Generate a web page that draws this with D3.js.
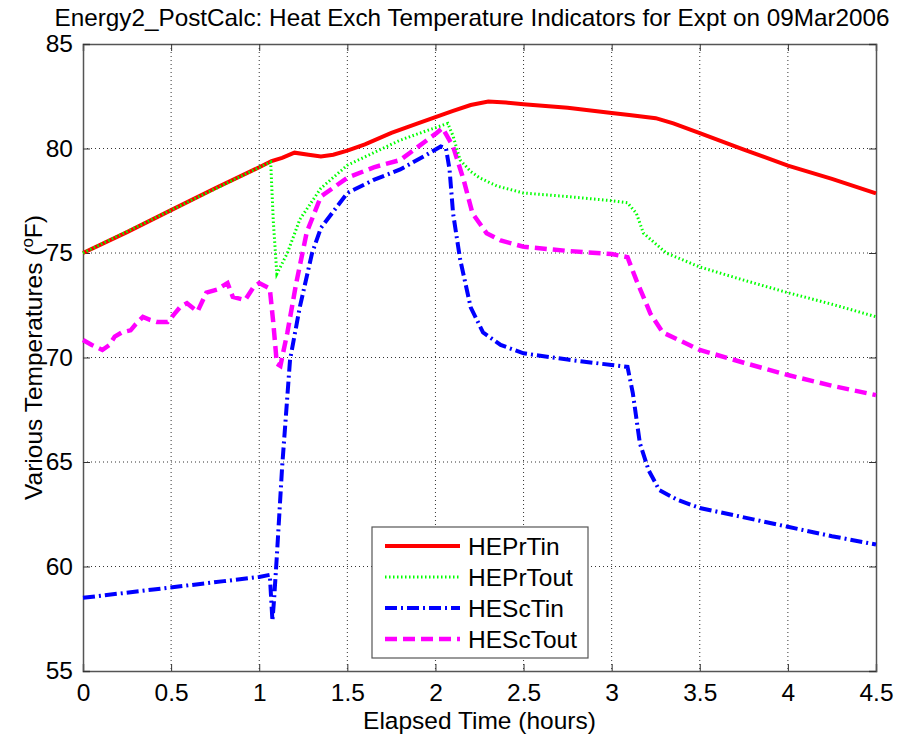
<!DOCTYPE html>
<html><head><meta charset="utf-8">
<script src="https://cdn.jsdelivr.net/npm/d3@7"></script>
<style>body{margin:0;background:#fff}svg{display:block}text{font-family:Arial,"Liberation Sans",sans-serif;}</style>
</head><body>
<svg id="c" width="904" height="740"></svg>
<script>
const xTicks = [0,0.5,1,1.5,2,2.5,3,3.5,4,4.5];
const xTickLabels = ["0","0.5","1","1.5","2","2.5","3","3.5","4","4.5"];
const yTicks = [55,60,65,70,75,80,85];
const yTickLabels = ["55","60","65","70","75","80","85"];
const seriesNames = ["HEPrTin","HEPrTout","HEScTin","HEScTout"];

const heprtinT = [0,0.25,0.5,0.75,1.0,1.07,1.13,1.2,1.28,1.35,1.42,1.5,1.6,1.75,1.9,2.0,2.1,2.2,2.3,2.4,2.5,2.75,3.0,3.1,3.25,3.35,3.5,3.75,4.0,4.25,4.5];
const heprtinV = [75,76.0,77.05,78.1,79.1,79.4,79.55,79.8,79.7,79.62,79.7,79.9,80.2,80.75,81.2,81.5,81.8,82.08,82.25,82.2,82.12,81.95,81.7,81.6,81.45,81.2,80.74,79.95,79.18,78.55,77.85];

const heprtoutT = [0,0.5,1.0,1.065,1.08,1.1,1.16,1.23,1.35,1.5,1.65,1.8,1.95,2.07,2.1,2.14,2.2,2.25,2.35,2.5,2.75,3.0,3.09,3.14,3.18,3.31,3.5,3.75,4.0,4.25,4.5];
const heprtoutV = [75,77.05,79.1,79.35,76.5,74.0,75.0,76.6,78.1,79.2,79.8,80.4,80.85,81.2,80.6,79.45,78.9,78.6,78.2,77.87,77.7,77.5,77.4,76.9,75.95,75.0,74.33,73.7,73.1,72.55,71.95];

const hesctinT = [0,0.2,0.4,0.6,0.8,1.0,1.06,1.075,1.085,1.1,1.13,1.175,1.23,1.3,1.35,1.5,1.65,1.8,1.95,2.03,2.06,2.08,2.1,2.14,2.2,2.27,2.37,2.5,2.75,3.0,3.09,3.12,3.16,3.21,3.27,3.37,3.5,3.75,4.0,4.25,4.5];
const hesctinV = [58.5,58.7,58.9,59.1,59.3,59.5,59.6,57.4,58.5,60.5,64.76,69.9,72.4,75.0,76.2,77.87,78.5,79.0,79.7,80.1,80.0,79.0,76.9,74.7,72.4,71.2,70.6,70.2,69.9,69.64,69.55,68.3,65.9,64.6,63.66,63.2,62.8,62.35,61.9,61.45,61.05];

const hesctoutT = [0,0.05,0.11,0.15,0.18,0.22,0.27,0.3,0.34,0.38,0.42,0.48,0.52,0.55,0.59,0.65,0.7,0.76,0.82,0.85,0.92,0.97,1.0,1.06,1.08,1.1,1.12,1.16,1.21,1.27,1.35,1.5,1.65,1.8,2.0,2.04,2.1,2.16,2.21,2.29,2.37,2.5,2.75,3.0,3.09,3.14,3.22,3.29,3.5,3.75,4.0,4.25,4.5];
const hesctoutV = [70.84,70.6,70.36,70.6,71.0,71.2,71.3,71.6,71.94,71.8,71.7,71.7,72.1,72.4,72.6,72.2,73.1,73.25,73.56,72.9,72.75,73.4,73.56,73.3,71.65,69.7,69.6,71.2,73.56,76.0,77.7,78.6,79.1,79.45,80.7,80.98,80.1,78.5,76.9,75.95,75.6,75.3,75.1,74.95,74.8,73.7,72.1,71.2,70.36,69.75,69.16,68.65,68.2];

const svg = d3.select("#c");
const L = 83, R = 876, T = 44, B = 671;
const x = d3.scaleLinear().domain([0,4.5]).range([L,R]);
const y = d3.scaleLinear().domain([55,85]).range([B,T]);

// grid
const grid = svg.append("g");
xTicks.slice(1,-1).forEach(v=>{
  grid.append("line").attr("x1",x(v)).attr("x2",x(v)).attr("y1",T).attr("y2",B)
    .attr("stroke","#333").attr("stroke-width",1).attr("stroke-dasharray","1,3");
});
yTicks.slice(1,-1).forEach(v=>{
  grid.append("line").attr("x1",L).attr("x2",R).attr("y1",y(v)).attr("y2",y(v))
    .attr("stroke","#333").attr("stroke-width",1).attr("stroke-dasharray","1,3");
});

// axes with inward ticks
const xAxisB = d3.axisBottom(x).tickValues(xTicks).tickFormat((d,i)=>xTickLabels[i]).tickSize(-7).tickPadding(13);
const gxb = svg.append("g").attr("transform",`translate(0,${B})`).call(xAxisB);
const xAxisT = d3.axisTop(x).tickValues(xTicks).tickFormat("").tickSize(-7);
const gxt = svg.append("g").attr("transform",`translate(0,${T})`).call(xAxisT);
const yAxisL = d3.axisLeft(y).tickValues(yTicks).tickFormat((d,i)=>yTickLabels[i]).tickSize(-7).tickPadding(10);
const gyl = svg.append("g").attr("transform",`translate(${L},0)`).call(yAxisL);
const yAxisR = d3.axisRight(y).tickValues(yTicks).tickFormat("").tickSize(-7);
const gyr = svg.append("g").attr("transform",`translate(${R},0)`).call(yAxisR);
[gxb,gxt,gyl,gyr].forEach(g=>{
  g.select(".domain").attr("stroke","#555").attr("stroke-width",1.5);
  g.selectAll(".tick line").attr("stroke","#333");
  g.selectAll("text").attr("font-size",24.5).attr("fill","#000").attr("font-family","Arial, 'Liberation Sans', sans-serif");
});
gxb.selectAll("text").attr("dy","0.71em");

// lines
const line = d3.line().x(d=>x(d[0])).y(d=>y(d[1]));
const zip = (a,b)=>a.map((t,i)=>[t,b[i]]);
const styles = [
  {data:zip(heprtinT,heprtinV), color:"#ff0000", w:4, dash:null},
  {data:zip(heprtoutT,heprtoutV), color:"#00ff00", w:3, dash:"1.5,2.5"},
  {data:zip(hesctinT,hesctinV), color:"#0000ff", w:4, dash:"12,4,2,4"},
  {data:zip(hesctoutT,hesctoutV), color:"#ff00ff", w:4.5, dash:"12,6"}
];
const plot = svg.append("g");
plot.append("path").datum(styles[0].data).attr("d",line).attr("fill","none")
  .attr("stroke",styles[0].color).attr("stroke-width",styles[0].w);
[3,2,1].forEach(i=>{
  const s = styles[i];
  plot.append("path").datum(s.data).attr("d",line).attr("fill","none")
    .attr("stroke",s.color).attr("stroke-width",s.w).attr("stroke-dasharray",s.dash);
});

// title & labels
svg.append("text").attr("x",472).attr("y",26).attr("text-anchor","middle")
  .attr("font-size",24).attr("textLength",835).attr("lengthAdjust","spacingAndGlyphs")
  .text("Energy2_PostCalc: Heat Exch Temperature Indicators for Expt on 09Mar2006");
svg.append("text").attr("x",(L+R)/2).attr("y",729).attr("text-anchor","middle")
  .attr("font-size",24.5).text("Elapsed Time (hours)");
const yl = svg.append("text").attr("transform",`translate(42,${(T+B)/2}) rotate(-90)`).attr("text-anchor","middle").attr("font-size",24.5);
yl.append("tspan").text("Various Temperatures (");
yl.append("tspan").attr("font-size",17).attr("dy",-9).text("o");
yl.append("tspan").attr("dy",9).text("F)");

// legend
const lg = svg.append("g");
lg.append("rect").attr("x",372).attr("y",527).attr("width",216).attr("height",131)
  .attr("fill","#fff").attr("stroke","#555").attr("stroke-width",1.2);
const rowsY = [546,577,608,639];
seriesNames.forEach((n,i)=>{
  const s = styles[i];
  lg.append("line").attr("x1",385).attr("x2",460).attr("y1",rowsY[i]).attr("y2",rowsY[i])
    .attr("stroke",s.color).attr("stroke-width",s.w).attr("stroke-dasharray",s.dash);
  lg.append("text").attr("x",468).attr("y",rowsY[i]).attr("dy","0.36em").attr("font-size",24.5).text(n);
});
</script>
</body></html>
